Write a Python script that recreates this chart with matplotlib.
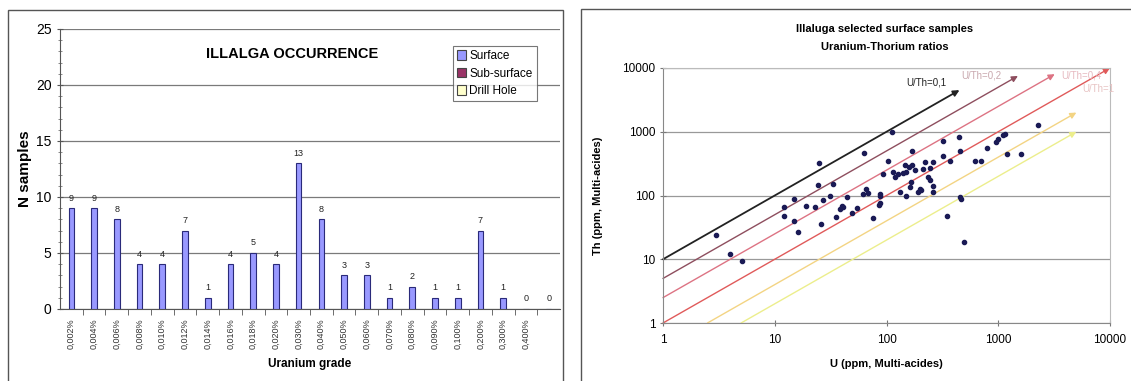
import numpy as np
import matplotlib
matplotlib.use('Agg')
from matplotlib import pyplot as plt
from matplotlib.patches import Rectangle

plt.rcParams['font.family'] = ['Liberation Sans', 'DejaVu Sans']

# uranium grade histogram
grades = ['0,002%', '0,004%', '0,006%', '0,008%', '0,010%', '0,012%', '0,014%',
          '0,016%', '0,018%', '0,020%', '0,030%', '0,040%', '0,050%', '0,060%',
          '0,070%', '0,080%', '0,090%', '0,100%', '0,200%', '0,300%', '0,400%', '']
counts = [9, 9, 8, 4, 4, 7, 1, 4, 5, 4, 13, 8, 3, 3, 1, 2, 1, 1, 7, 1, 0, 0]
legend_names = ['Surface', 'Sub-surface', 'Drill Hole']
legend_colors = ['#9999FF', '#993366', '#FFFFCC']

# U / Th surface samples (ppm)
u_ppm = [3.0, 4.0, 5.1, 12, 12, 15, 15, 16, 19, 23, 26, 24.5, 27, 31, 33.5, 35, 38, 40,
         41, 44, 49, 54, 62, 68, 66, 76, 85, 88, 25, 63, 93, 111, 168, 323, 450, 2290,
         1150, 1100, 950, 1000, 790, 1200, 1590, 620, 700, 453, 323, 370, 262, 220, 245,
         180, 210, 160, 170, 140, 150, 127, 120, 104, 237, 245, 162, 200, 132, 150, 190,
         260, 453, 165, 205, 262, 88, 88, 345, 465, 490, 115, 145]
th_ppm = [24, 12, 9.4, 67, 47, 89, 40, 27, 69, 66, 36, 148, 86, 100, 152, 46, 62, 68,
          65, 94, 53, 64, 105, 109, 127, 45, 72, 100, 318, 457, 220, 1000, 505, 720, 815,
          1260, 915, 880, 700, 780, 550, 445, 440, 350, 350, 490, 420, 345, 330, 330, 267,
          250, 260, 280, 300, 225, 235, 218, 196, 350, 194, 175, 135, 127, 112, 100, 112,
          112, 94, 160, 123, 143, 107, 75, 47, 88, 18.6, 230, 300]

# reference U/Th ratio lines
ratios = [0.1, 0.2, 0.4, 1, 2.5, 5]
ratio_u_end = [450, 1500, 3200, 10000, 5000, 5000]
ratio_colors = ['#222222', '#8E4E5E', '#DD7383', '#E05A5A', '#F3D483', '#ECEE8C']
ratio_labels = ['U/Th=0,1', 'U/Th=0,2', 'U/Th=0,4', 'U/Th=1', '', '']
label_pos = [(150, 6000), (470, 7600), (3700, 7600), (5600, 4600), None, None]
label_colors = ['#222222', '#C9A8AE', '#E6B9C0', '#E8C4C4', None, None]

narrow = ['Liberation Sans Narrow', 'Liberation Sans']

fig = plt.figure(figsize=(11.31, 3.81), dpi=100)

# panel frames
for x0, y0, w, h in [(8, 10, 555, 380), (581, 9, 560, 380)]:
    fig.patches.append(Rectangle((x0 / 1131, 1 - (y0 + h) / 381), w / 1131, h / 381,
                                 transform=fig.transFigure, fill=False,
                                 edgecolor='#555555', lw=1.0))

# ---- left: histogram ----
ax1 = fig.add_axes([60 / 1131, 1 - 309 / 381, 500 / 1131, 280 / 381])
x = np.arange(len(counts))
ax1.bar(x, counts, width=0.25, color=legend_colors[0], edgecolor='#2A2A7A', lw=0.8, zorder=3)
for xi, c in zip(x, counts):
    ax1.text(xi, c + 0.5, str(c), ha='center', va='bottom', fontsize=6.5, color='#222222')
ax1.set_xlim(-0.5, len(counts) - 0.5)
ax1.set_ylim(0, 25)
ax1.set_yticks([0, 5, 10, 15, 20, 25])
ax1.set_yticks(np.arange(0, 26, 1), minor=True)
ax1.set_xticks(x)
ax1.set_xticklabels(grades, rotation=90, fontsize=6.5, color='#333333')
ax1.set_xticks(x[:-1] + 0.5, minor=True)
ax1.tick_params(axis='x', which='major', length=0, pad=7)
ax1.tick_params(axis='x', which='minor', length=4, direction='out', color='#555555')
ax1.tick_params(axis='y', which='major', length=5, direction='inout', labelsize=10, color='#555555')
ax1.tick_params(axis='y', which='minor', length=3, direction='inout', color='#777777')
ax1.grid(axis='y', color='#7A7A7A', lw=0.9, zorder=0)
for s in ['top', 'right']:
    ax1.spines[s].set_visible(False)
ax1.spines['left'].set_color('#555555')
ax1.spines['bottom'].set_color('#555555')
ax1.set_ylabel('N samples', fontsize=11, fontweight='bold', labelpad=3)
ax1.set_xlabel('Uranium grade', fontsize=8.5, fontweight='bold', labelpad=6, family=narrow)
ax1.text(0.465, 0.91, 'ILLALGA OCCURRENCE', transform=ax1.transAxes, ha='center', va='center',
         fontsize=10.5, fontweight='bold', family=narrow)
handles = [Rectangle((0, 0), 1, 1, facecolor=c, edgecolor='#444444', lw=0.8) for c in legend_colors]
leg = ax1.legend(handles, legend_names, loc='upper right', bbox_to_anchor=(0.965, 0.96),
                 frameon=True, fancybox=False, handlelength=0.7, handleheight=0.9,
                 handletextpad=0.3, borderpad=0.35, labelspacing=0.45,
                 prop={'family': narrow, 'size': 8.5})
leg.get_frame().set_edgecolor('#555555')
leg.get_frame().set_linewidth(0.8)

# ---- right: U vs Th log-log ----
ax2 = fig.add_axes([663 / 1131, 1 - 323 / 381, 447 / 1131, 255 / 381])
ax2.set_xscale('log')
ax2.set_yscale('log')
ax2.set_xlim(1, 10000)
ax2.set_ylim(1, 10000)
for r, ue, c in zip(ratios, ratio_u_end, ratio_colors):
    # start each line where it enters the plot (U=1 or Th=1)
    u0 = max(1.0, r)
    ax2.annotate('', xy=(ue, ue / r), xytext=(u0, u0 / r), xycoords='data',
                 arrowprops=dict(arrowstyle='-|>', color=c, lw=1.3 if r == 0.1 else 1.0,
                                 mutation_scale=9, shrinkA=0, shrinkB=0), zorder=2)
for lab, pos, c in zip(ratio_labels, label_pos, label_colors):
    if lab:
        ax2.text(pos[0], pos[1], lab, fontsize=7, color=c, ha='left', va='center')
ax2.scatter(u_ppm, th_ppm, s=9, color='#1A1A55', zorder=4)
ax2.set_xticks([1, 10, 100, 1000, 10000])
ax2.set_xticklabels(['1', '10', '100', '1000', '10000'])
ax2.set_yticks([1, 10, 100, 1000, 10000])
ax2.set_yticklabels(['1', '10', '100', '1000', '10000'])
ax2.minorticks_off()
ax2.tick_params(axis='both', length=4, direction='inout', labelsize=8.5, color='#777777')
ax2.tick_params(axis='x', pad=6)
ax2.grid(axis='y', color='#999999', lw=0.9, zorder=0)
for s in ['top', 'right']:
    ax2.spines[s].set_color('#BBBBBB')
for s in ['left', 'bottom']:
    ax2.spines[s].set_color('#888888')
ax2.set_xlabel('U (ppm, Multi-acides)', fontsize=8, fontweight='bold', labelpad=9)
ax2.set_ylabel('Th (ppm, Multi-acides)', fontsize=8, fontweight='bold', labelpad=14)
fig.text(885 / 1131, 1 - 29 / 381, 'Illaluga selected surface samples', ha='center',
         va='center', fontsize=8, fontweight='bold')
fig.text(885 / 1131, 1 - 47 / 381, 'Uranium-Thorium ratios', ha='center',
         va='center', fontsize=8, fontweight='bold')

fig.savefig('out.png', dpi=100)
